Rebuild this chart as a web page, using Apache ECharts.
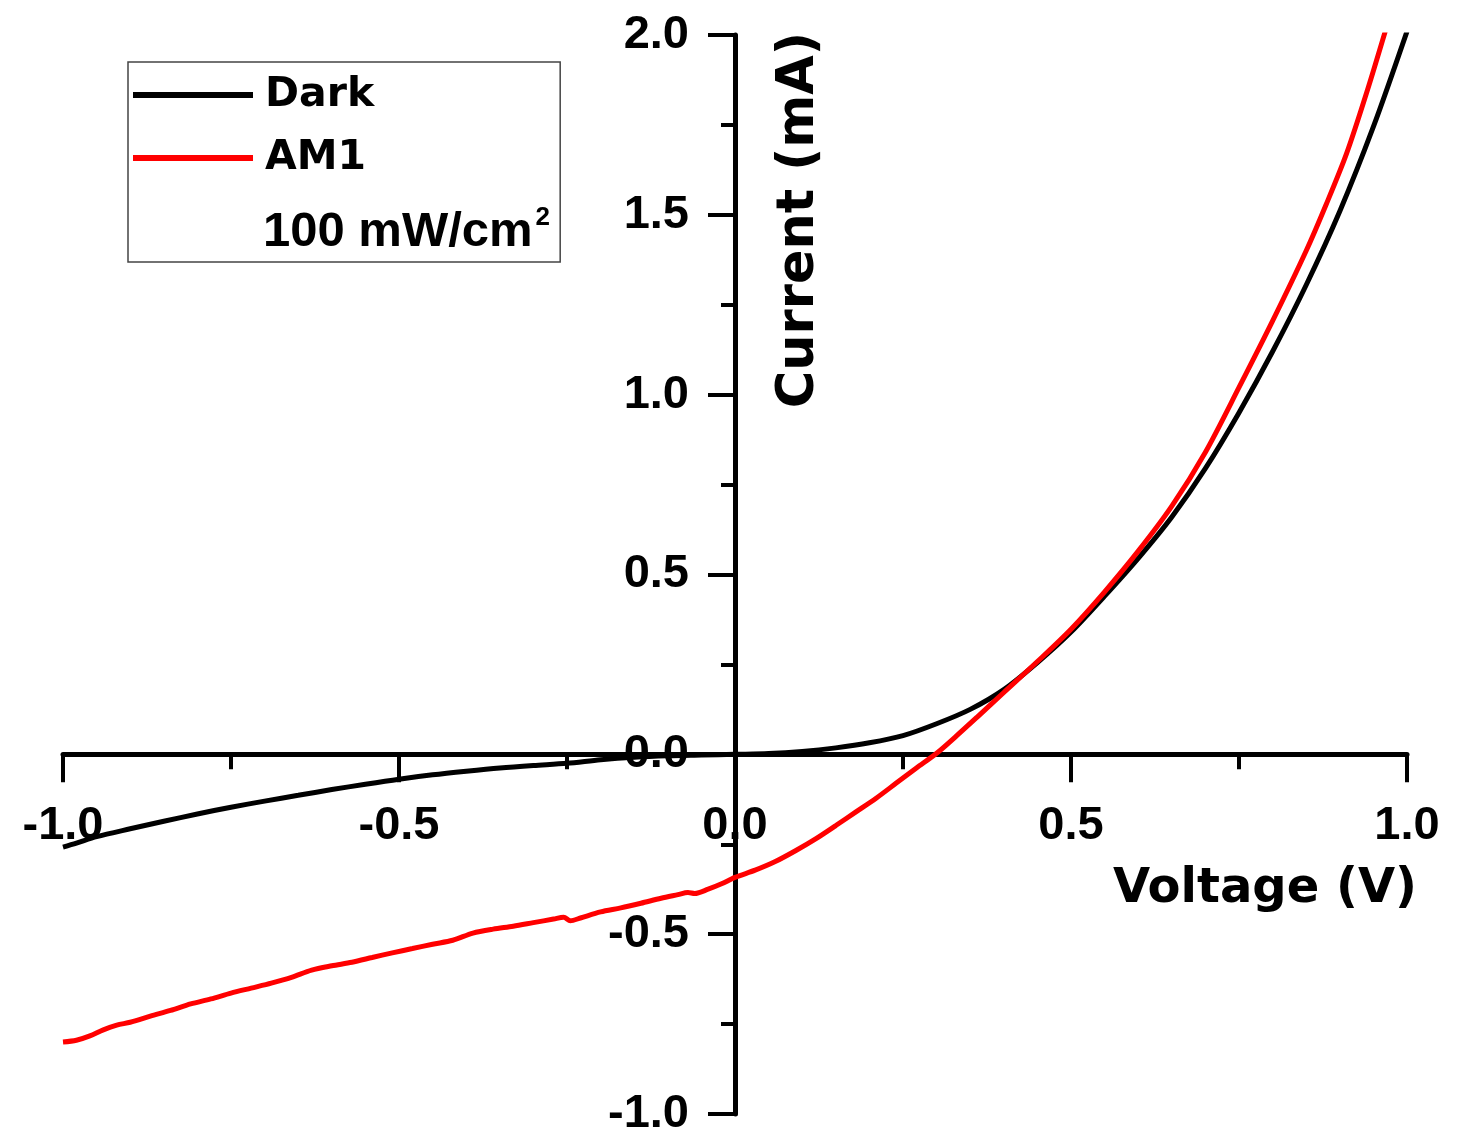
<!DOCTYPE html>
<html>
<head>
<meta charset="utf-8">
<title>I-V characteristics</title>
<script src="https://cdn.jsdelivr.net/npm/echarts@6/dist/echarts.min.js"></script>
<style>
  html, body { margin: 0; padding: 0; background: #fff; }
  #chart { width: 1464px; height: 1129px; }
</style>
</head>
<body>
<div id="chart"></div>
<script>
// Current–voltage sweep of the cell, measured in the dark and under AM1 illumination.
const seriesNames = ['Dark', 'AM1'];
const illuminationNote = '100 mW/cm';

// Voltage (V) and current (mA) pairs, dark measurement
const darkVoltage = [-1.00, -0.98, -0.95, -0.90, -0.85, -0.80, -0.75, -0.70, -0.65, -0.60,
  -0.55, -0.50, -0.45, -0.40, -0.35, -0.30, -0.25, -0.20, -0.15, -0.10, -0.05, 0.00,
  0.05, 0.10, 0.15, 0.20, 0.25, 0.30, 0.35, 0.40, 0.45, 0.50, 0.55, 0.60, 0.65, 0.70,
  0.75, 0.80, 0.85, 0.90, 0.95, 1.00];
const darkCurrent = [-0.258, -0.247, -0.229, -0.207, -0.186, -0.166, -0.147, -0.130, -0.114, -0.098,
  -0.083, -0.069, -0.057, -0.047, -0.038, -0.031, -0.025, -0.015, -0.008, -0.004, -0.002, 0.000,
  0.002, 0.008, 0.018, 0.032, 0.052, 0.085, 0.125, 0.180, 0.255, 0.340, 0.440, 0.545, 0.660, 0.795,
  0.950, 1.120, 1.305, 1.510, 1.745, 2.010];

// Voltage (V) and current (mA) pairs, AM1 100 mW/cm² illumination
const am1Voltage = [-1.00, -0.98, -0.96, -0.94, -0.92, -0.90, -0.87, -0.84, -0.81, -0.78,
  -0.75, -0.72, -0.69, -0.66, -0.63, -0.60, -0.57, -0.54, -0.51, -0.48, -0.45, -0.42,
  -0.39, -0.36, -0.33, -0.30, -0.27, -0.255, -0.245, -0.23, -0.20, -0.17, -0.14, -0.11,
  -0.085, -0.07, -0.06, -0.04, -0.02, 0.00, 0.03, 0.06, 0.09, 0.12, 0.15, 0.18, 0.21,
  0.24, 0.27, 0.30, 0.33, 0.36, 0.40, 0.45, 0.50, 0.55, 0.60, 0.65, 0.70, 0.75, 0.80,
  0.85, 0.88, 0.91, 0.94, 0.97];
const am1Current = [-0.800, -0.795, -0.783, -0.766, -0.753, -0.745, -0.728, -0.712, -0.694, -0.680,
  -0.664, -0.650, -0.636, -0.620, -0.600, -0.588, -0.578, -0.565, -0.552, -0.540, -0.528, -0.517,
  -0.497, -0.486, -0.478, -0.468, -0.458, -0.453, -0.463, -0.455, -0.438, -0.427, -0.414, -0.400,
  -0.390, -0.384, -0.387, -0.375, -0.360, -0.342, -0.322, -0.298, -0.268, -0.235, -0.198, -0.160, -0.122,
  -0.080, -0.038, 0.003, 0.052, 0.103, 0.172, 0.258, 0.348, 0.452, 0.565, 0.690, 0.840, 1.020, 1.205,
  1.400, 1.530, 1.670, 1.840, 2.025];

// Axis ranges and tick labels
const voltageRange = [-1, 1];
const currentRange = [-1, 2];
const voltageTicks = ['-1.0', '-0.5', '0.0', '0.5', '1.0'];
const currentTicks = ['-1.0', '-0.5', '0.0', '0.5', '1.0', '1.5', '2.0'];

const pair = (xs, ys) => xs.map((x, i) => [x, ys[i]]);

const numFont = 'Liberation Sans';
const wordFont = 'DejaVu Sans';

const W = 1464, H = 1129;
const grid = { left: 63, right: 57, top: 35, bottom: 15 };
const gridW = W - grid.left - grid.right;
const gridH = H - grid.top - grid.bottom;
// both axes cross at the origin: shift them inward from the grid edges
const xAxisOffset = -gridH * (0 - currentRange[0]) / (currentRange[1] - currentRange[0]);
const yAxisOffset = -gridW * (0 - voltageRange[0]) / (voltageRange[1] - voltageRange[0]);

const chart = echarts.init(document.getElementById('chart'), null, { renderer: 'canvas' });

const axisLineStyle = { color: '#000', width: 5 };
const tickLineStyle = { color: '#000', width: 4 };
const tickLabelStyle = { color: '#000', fontFamily: numFont, fontWeight: 'bold', fontSize: 47 };

chart.setOption({
  animation: false,
  backgroundColor: '#fff',
  grid: Object.assign({ containLabel: false, outerBoundsMode: 'none' }, grid),
  legend: {
    data: seriesNames,
    orient: 'vertical',
    left: 128,
    top: 62,
    icon: 'rect',
    itemWidth: 120,
    itemHeight: 6,
    itemGap: 15,
    padding: [9, 186, 80, 5],
    borderColor: '#444',
    borderWidth: 1.5,
    backgroundColor: '#fff',
    selectedMode: false,
    textStyle: {
      fontFamily: wordFont,
      fontWeight: 'bold',
      fontSize: 41,
      lineHeight: 48,
      padding: [0, 0, 0, 7],
      color: '#000'
    }
  },
  xAxis: {
    type: 'value',
    position: 'bottom',
    offset: xAxisOffset,
    min: voltageRange[0],
    max: voltageRange[1],
    interval: 0.5,
    axisLine: { onZero: false, lineStyle: axisLineStyle },
    axisTick: { show: true, inside: false, length: 28, lineStyle: tickLineStyle },
    minorTick: { show: true, splitNumber: 2, length: 15, lineStyle: tickLineStyle },
    splitLine: { show: false },
    minorSplitLine: { show: false },
    axisLabel: Object.assign({
      margin: 48,
      formatter: v => voltageTicks[Math.round((v - voltageRange[0]) / 0.5)]
    }, tickLabelStyle)
  },
  yAxis: {
    type: 'value',
    position: 'left',
    offset: yAxisOffset,
    min: currentRange[0],
    max: currentRange[1],
    interval: 0.5,
    axisLine: { onZero: false, lineStyle: axisLineStyle },
    axisTick: { show: true, inside: false, length: 27, lineStyle: tickLineStyle },
    minorTick: { show: true, splitNumber: 2, length: 14, lineStyle: tickLineStyle },
    splitLine: { show: false },
    minorSplitLine: { show: false },
    axisLabel: Object.assign({
      margin: 46,
      formatter: v => currentTicks[Math.round((v - currentRange[0]) / 0.5)]
    }, tickLabelStyle)
  },
  series: [
    {
      name: seriesNames[0],
      type: 'line',
      data: pair(darkVoltage, darkCurrent),
      symbol: 'none',
      smooth: 0.3,
      color: '#000',
      itemStyle: { color: '#000' },
      lineStyle: { color: '#000', width: 5 },
      z: 3
    },
    {
      name: seriesNames[1],
      type: 'line',
      data: pair(am1Voltage, am1Current),
      symbol: 'none',
      smooth: 0.3,
      color: '#ff0000',
      itemStyle: { color: '#ff0000' },
      lineStyle: { color: '#ff0000', width: 5 },
      z: 4
    }
  ],
  graphic: [
    {
      type: 'text',
      left: 263,
      top: 205,
      z: 100,
      style: {
        text: illuminationNote + '{sup|2}',
        fontFamily: numFont,
        fontWeight: 'bold',
        fontSize: 49,
        lineHeight: 54,
        fill: '#000',
        rich: {
          sup: { fontFamily: numFont, fontWeight: 'bold', fontSize: 26, lineHeight: 26, verticalAlign: 'top', padding: [0, 0, 0, 3] }
        }
      }
    },
    {
      type: 'text',
      x: 1265,
      y: 890,
      style: {
        text: 'Voltage (V)',
        fontFamily: wordFont,
        fontWeight: 'bold',
        fontSize: 48,
        fill: '#000',
        align: 'center',
        verticalAlign: 'middle'
      }
    },
    {
      type: 'text',
      x: 800,
      y: 220,
      rotation: Math.PI / 2,
      style: {
        text: 'Current (mA)',
        fontFamily: wordFont,
        fontWeight: 'bold',
        fontSize: 51,
        fill: '#000',
        align: 'center',
        verticalAlign: 'middle'
      }
    }
  ]
});
</script>
</body>
</html>
